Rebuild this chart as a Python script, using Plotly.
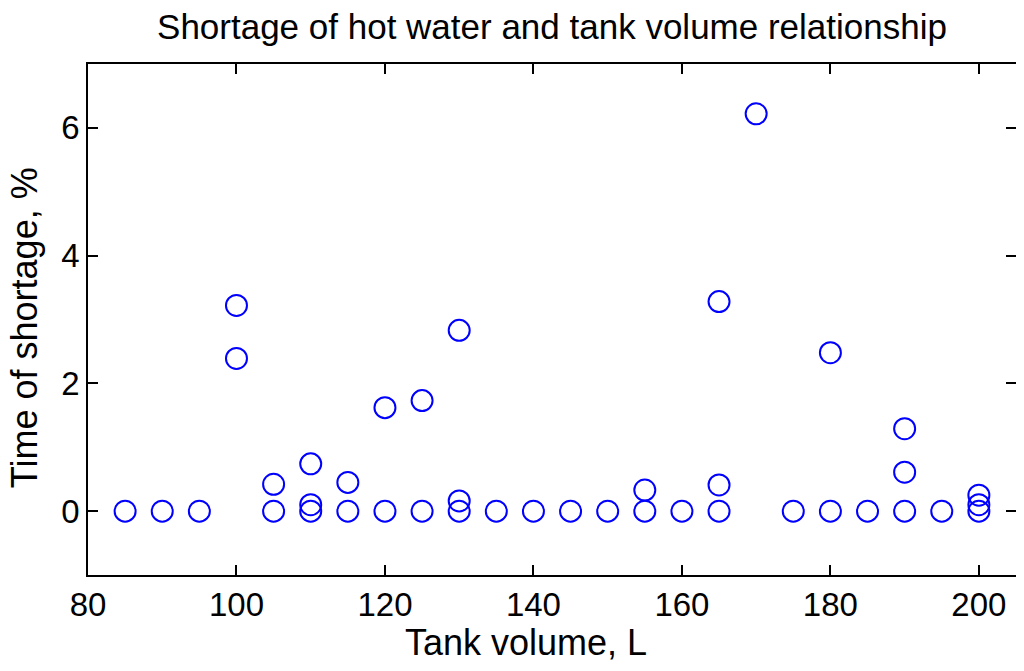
import plotly.graph_objects as go

tank_volume = [85, 90, 95, 100, 100, 105, 105, 110, 110, 110, 115, 115, 120, 120,
               125, 125, 130, 130, 130, 135, 140, 145, 150, 155, 155, 160,
               165, 165, 165, 170, 175, 180, 180, 185, 190, 190, 190, 195,
               200, 200, 200]
shortage = [0, 0, 0, 3.22, 2.39, 0.42, 0, 0.74, 0.1, 0, 0.45, 0, 1.62, 0,
            1.73, 0, 2.83, 0.16, 0, 0, 0, 0, 0, 0.33, 0, 0,
            3.28, 0.41, 0, 6.22, 0, 2.48, 0, 0, 1.29, 0.61, 0, 0,
            0.25, 0.1, 0]
x_ticks = [80, 100, 120, 140, 160, 180, 200]
y_ticks = [0, 2, 4, 6]

font_family = "Liberation Sans, Arial, Helvetica, sans-serif"

fig = go.Figure(go.Scatter(
    x=tank_volume, y=shortage, mode="markers",
    marker=dict(symbol="circle-open", size=21, color="#0000ff",
                line=dict(width=2, color="#0000ff")),
))

axis_common = dict(
    showgrid=False, zeroline=False, showline=True, linecolor="black", linewidth=1.5,
    mirror="ticks", ticks="inside", ticklen=10, tickwidth=1.5, tickcolor="black",
    tickfont=dict(family=font_family, size=33, color="black"),
    automargin=False,
)

# page body adds an 8px offset, so the figure is sized to fit the window
W, H = 1016, 663

fig.update_layout(
    width=W, height=H,
    margin=dict(l=80, r=8, t=56, b=96),
    paper_bgcolor="white", plot_bgcolor="white",
    showlegend=False,
    title=dict(text="Shortage of hot water and tank volume relationship",
               x=0.5, xref="paper", xanchor="center", y=1 - 19 / H, yanchor="middle",
               font=dict(family=font_family, size=35, color="black")),
    xaxis=dict(range=[80, 205], tickvals=x_ticks, **axis_common),
    yaxis=dict(range=[-1, 7], tickvals=y_ticks, **axis_common),
    annotations=[
        dict(text="Tank volume, L", xref="paper", yref="paper",
             x=0.472, y=-0.133, xanchor="center", yanchor="middle", showarrow=False,
             font=dict(family=font_family, size=36, color="black")),
        dict(text="Time of shortage, %", xref="paper", yref="paper",
             x=-0.069, y=0.485, xanchor="center", yanchor="middle", showarrow=False,
             textangle=-90,
             font=dict(family=font_family, size=36, color="black")),
    ],
)

fig.write_html("out.html")
